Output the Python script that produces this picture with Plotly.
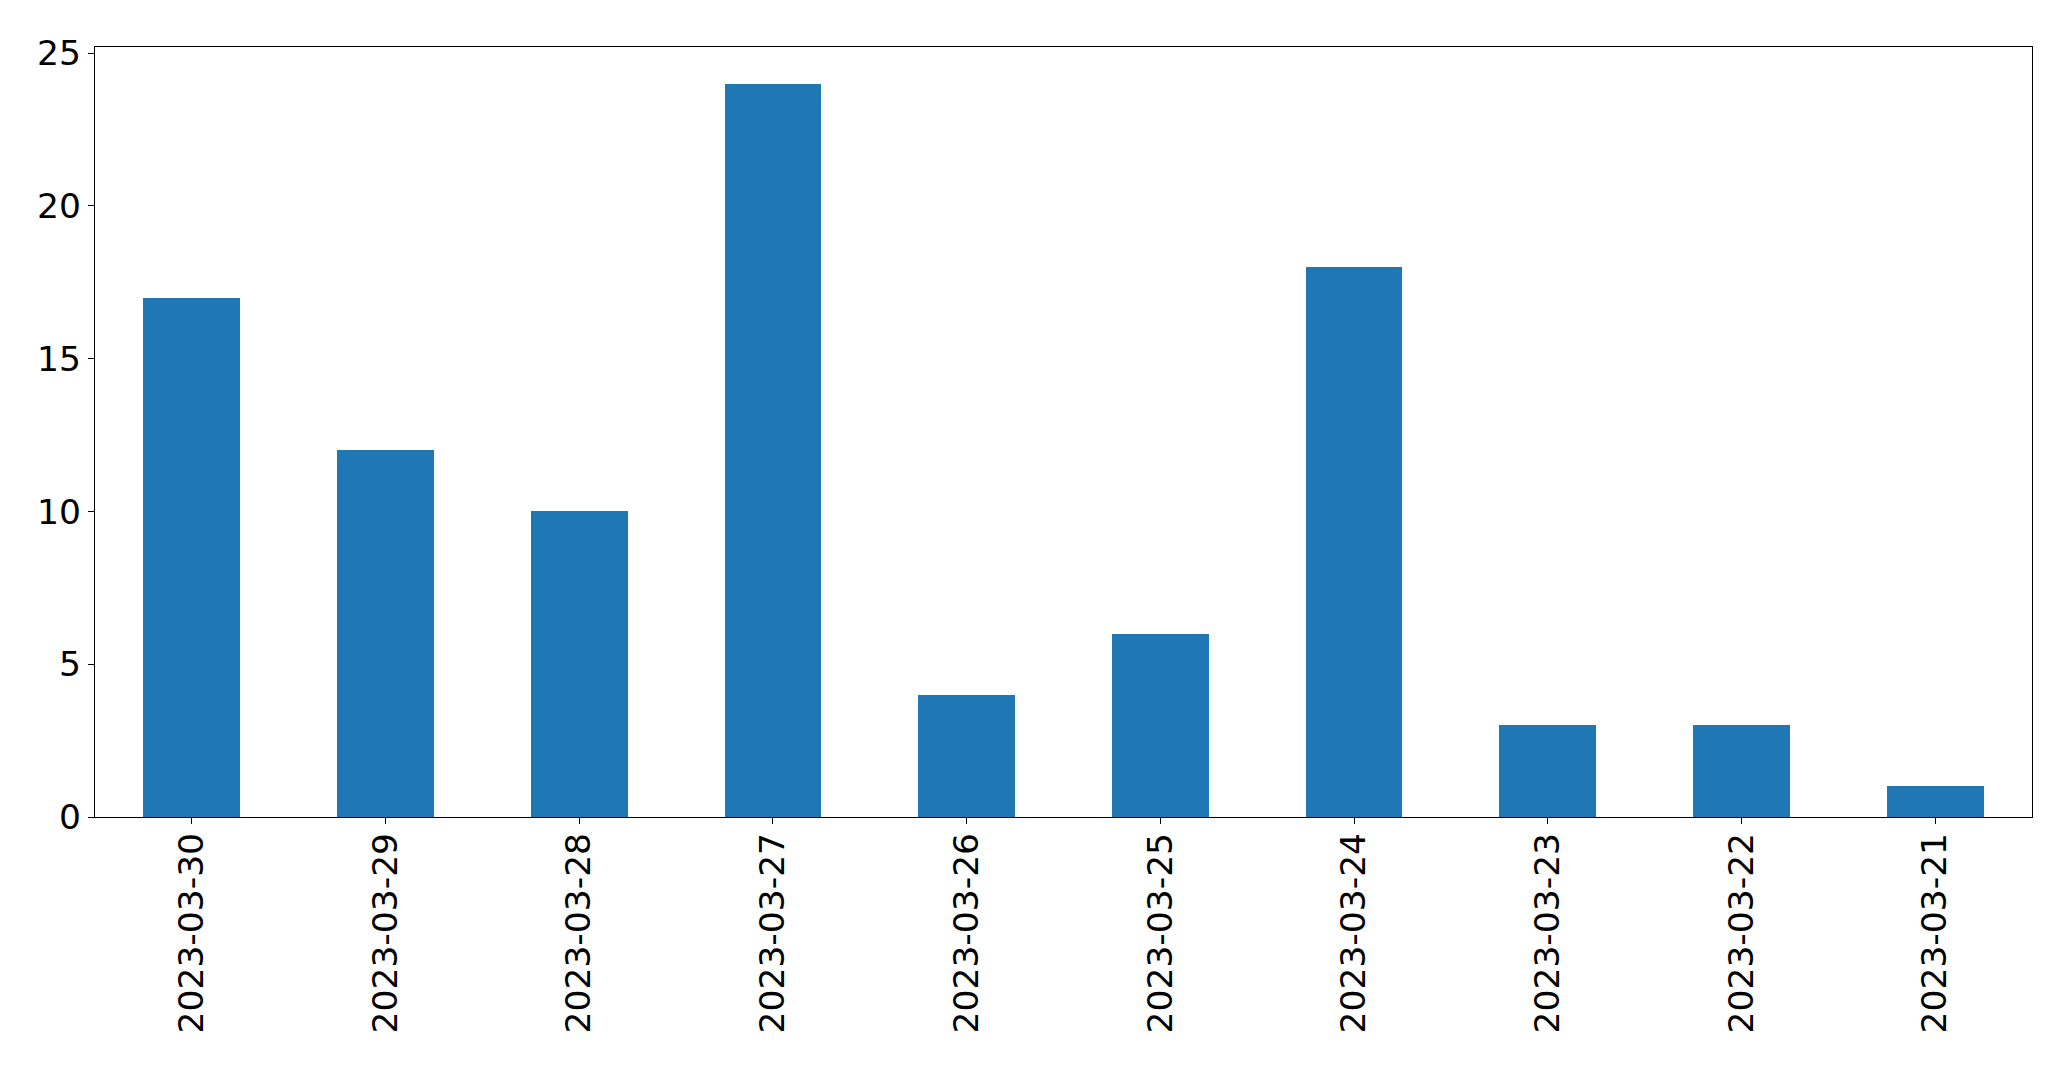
import plotly.graph_objects as go

dates = ["2023-03-30", "2023-03-29", "2023-03-28", "2023-03-27", "2023-03-26",
         "2023-03-25", "2023-03-24", "2023-03-23", "2023-03-22", "2023-03-21"]
counts = [17, 12, 10, 24, 4, 6, 18, 3, 3, 1]
y_ticks = [0, 5, 10, 15, 20, 25]

fig = go.Figure(go.Bar(x=list(range(len(dates))), y=counts, width=0.5,
                       marker=dict(color="#1f77b4", line=dict(width=0))))

font = dict(family="DejaVu Sans", size=34.5, color="black")
fig.update_layout(
    width=2055, height=1053,
    margin=dict(l=87, r=31, t=39, b=244, pad=0),
    paper_bgcolor="white", plot_bgcolor="white",
    showlegend=False, font=font, bargap=0,
)
fig.update_xaxes(
    range=[-0.5, len(dates) - 0.5], tickmode="array",
    tickvals=list(range(len(dates))), ticktext=dates, tickangle=-90,
    showgrid=False, zeroline=False, showline=True, linecolor="black", linewidth=1.3,
    mirror=True, ticks="outside", ticklen=6, tickwidth=1.3, tickcolor="black",
    tickfont=font, ticklabelstandoff=-5,
)
fig.update_yaxes(
    range=[0, 25.2], tickmode="array", tickvals=y_ticks,
    showgrid=False, zeroline=False, showline=True, linecolor="black", linewidth=1.3,
    mirror=True, ticks="outside", ticklen=6, tickwidth=1.3, tickcolor="black",
    tickfont=font,
)
fig.write_html("out.html")
